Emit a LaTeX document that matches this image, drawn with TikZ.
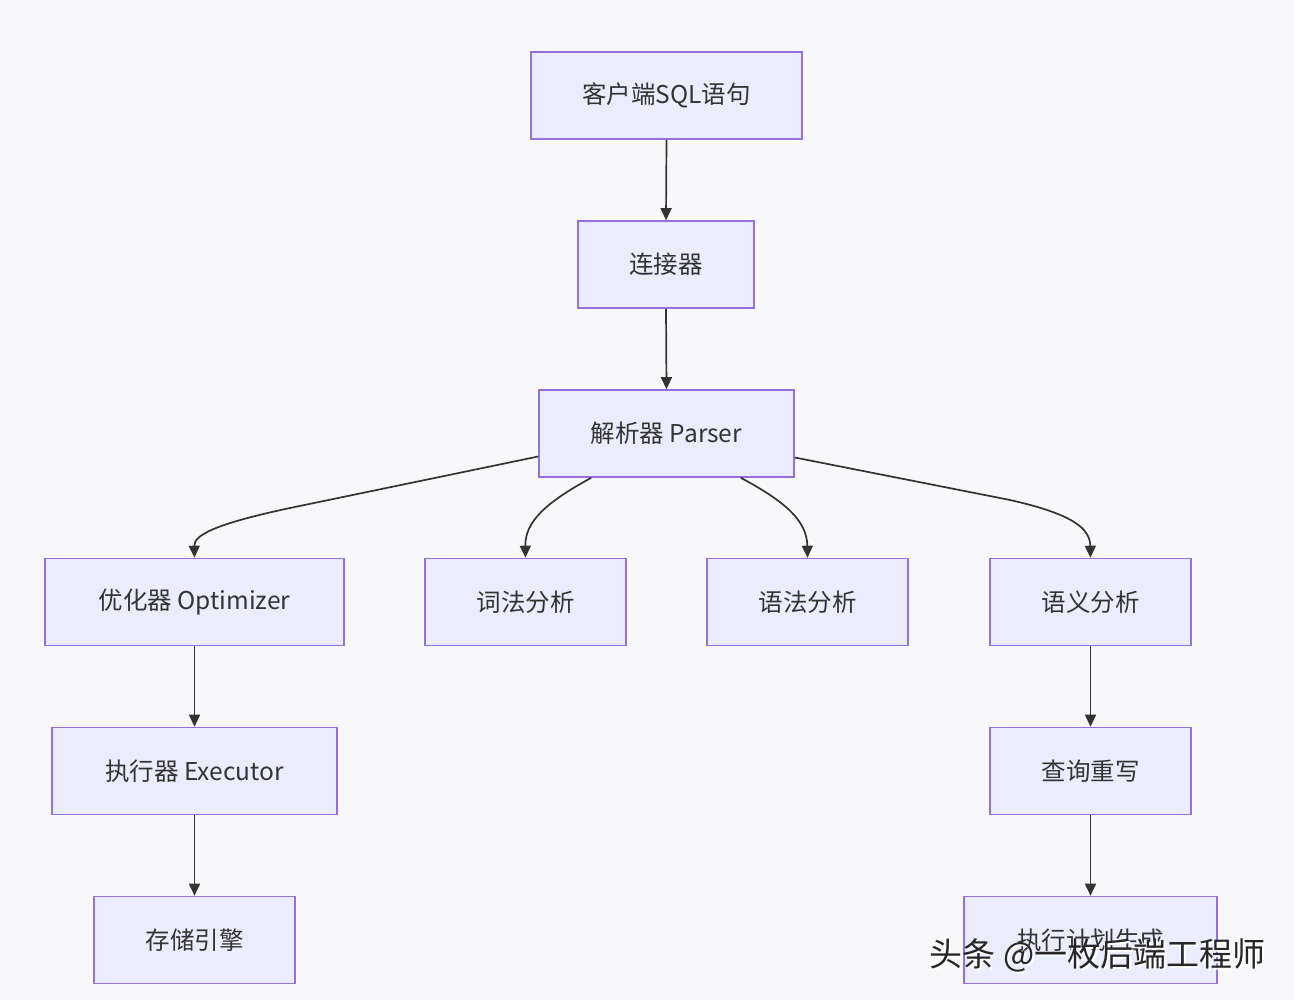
\documentclass[tikz,border=0pt]{standalone}
\usepackage{fontspec}
\setmainfont{Noto Sans CJK SC}
\usetikzlibrary{arrows.meta,calc}
\definecolor{bgc}{HTML}{F8F8FA}
\definecolor{nodefill}{HTML}{ECECFF}
\definecolor{nodeline}{HTML}{9370DB}
\definecolor{txt}{HTML}{333333}
\definecolor{edgec}{HTML}{333333}
\definecolor{wmark}{HTML}{262626}
\tikzset{
  box/.style={draw=nodeline, fill=nodefill, line width=1.6pt, text=txt,
    font=\fontsize{24.5}{28}\selectfont, inner sep=0pt, minimum height=87pt},
  flow/.style={draw=edgec, line width=1.7pt, -{Triangle[length=12pt,width=11pt]}},
  wm/.style={font=\fontsize{33}{36}\selectfont, inner sep=0pt}
}
\begin{document}
\begin{tikzpicture}[x=1pt,y=1pt]
\fill[bgc] (0,0) rectangle (1294,-1000);
\useasboundingbox (0,0) rectangle (1294,-1000);

\node[box, minimum width=271pt] (client) at (666.5,-95.5) {客户端SQL语句};
\node[box, minimum width=176pt] (conn) at (666,-264.5) {连接器};
\node[box, minimum width=255pt] (parser) at (666.5,-433.5) {解析器 Parser};
\node[box, minimum width=299pt] (opt) at (194.5,-602) {优化器 Optimizer};
\node[box, minimum width=201pt] (lex) at (525.5,-602) {词法分析};
\node[box, minimum width=201pt] (syn) at (807.5,-602) {语法分析};
\node[box, minimum width=201pt] (sem) at (1090.5,-602) {语义分析};
\node[box, minimum width=285pt] (exec) at (194.5,-771) {执行器 Executor};
\node[box, minimum width=201pt] (store) at (194.5,-940) {存储引擎};
\node[box, minimum width=201pt] (rewrite) at (1090.5,-771) {查询重写};
\node[box, minimum width=253pt] (plan) at (1090.5,-940) {执行计划生成};

\draw[flow] (client.south) -- (conn.north);
\draw[flow] (conn.south) -- (parser.north);
\draw[flow] ($(parser.west)+(0,-23)$) -- (290,-508) .. controls (215,-524) and (194,-535) .. (opt.north);
\draw[flow] ($(parser.south west)+(53,0)$) .. controls (545,-503) and (525,-522) .. (lex.north);
\draw[flow] ($(parser.south east)+(-54,0)$) .. controls (788,-503) and (807,-522) .. (syn.north);
\draw[flow] ($(parser.east)+(0,-24)$) -- (1010,-500) .. controls (1072,-514) and (1090,-528) .. (sem.north);
\draw[flow] (opt.south) -- (exec.north);
\draw[flow] (exec.south) -- (store.north);
\draw[flow] (sem.south) -- (rewrite.north);
\draw[flow] (rewrite.south) -- (plan.north);

\node[wm, text=white] (wmshadow) at (1099.5,-957.5) {头条 @一枚后端工程师};
\node[wm, text=wmark] (watermark) at (1097.5,-955.5) {头条 @一枚后端工程师};
\end{tikzpicture}
\end{document}
